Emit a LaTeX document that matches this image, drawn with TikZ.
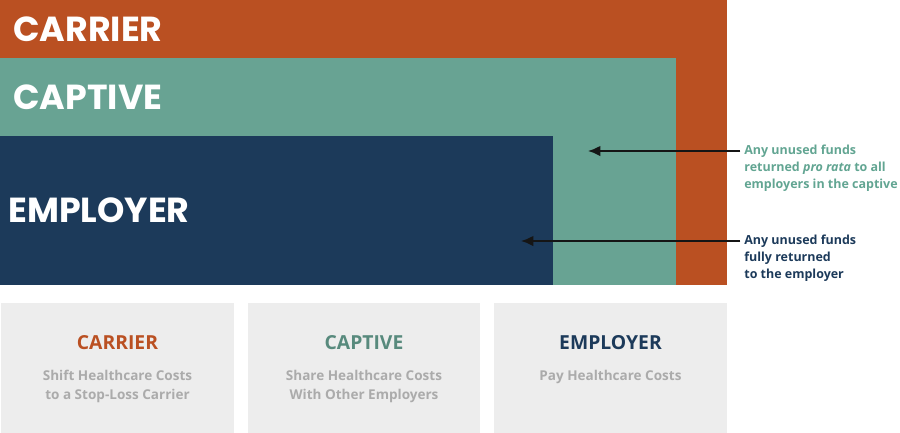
\documentclass[tikz,border=0pt]{standalone}
\usepackage{fontspec}
\setmainfont{Open Sans}
\newfontfamily\headfont{Poppins}
\usetikzlibrary{arrows.meta}

\definecolor{carrierred}{HTML}{BA5022}
\definecolor{captiveteal}{HTML}{68A393}
\definecolor{employerblue}{HTML}{1C3A5A}
\definecolor{panelgray}{HTML}{EDEDED}
\definecolor{subgray}{HTML}{ABABAB}
\definecolor{notegreen}{HTML}{62A592}
\definecolor{arrowblack}{HTML}{151515}

\begin{document}
\begin{tikzpicture}[x=0.02cm, y=-0.02cm,
  bigtitle/.style={anchor=west, text=white, inner sep=0pt,
    font=\headfont\bfseries\fontsize{19.8}{22}\selectfont},
  panel/.style={fill=panelgray, minimum width=4.66cm, minimum height=2.6cm, inner sep=0pt},
  paneltitle/.style={inner sep=0pt, font=\bfseries\fontsize{11}{13}\selectfont},
  paneltext/.style={text=subgray, align=center, inner sep=0pt,
    font=\bfseries\fontsize{7.7}{10.8}\selectfont},
  note/.style={anchor=north west, align=left, inner sep=0pt,
    font=\bfseries\fontsize{7.1}{9.6}\selectfont},
  back/.style={-{Latex[length=7pt,width=6pt]}, line width=1.1pt, draw=arrowblack, shorten <=2pt}]
\useasboundingbox (0,0) rectangle (900,433);

% nested layers
\fill[carrierred] (0,0) rectangle (727,285);
\fill[captiveteal] (0,58) rectangle (676,285);
\fill[employerblue] (0,136) rectangle (553,285);

\node[bigtitle] (carrier) at (13,29) {CARRIER};
\node[bigtitle] (captive) at (13,97) {CAPTIVE};
\node[bigtitle] (employer) at (8,210) {EMPLOYER};

% notes on the right
\node[note, text=notegreen] (note1) at (744,145)
  {Any unused funds\\returned \textit{pro rata} to all\\employers in the captive};
\node[note, text=employerblue] (note2) at (744,235)
  {Any unused funds\\fully returned\\to the employer};
\coordinate (tip1) at (588,151);
\coordinate (tip2) at (521,241);
\draw[back] (note1.west |- tip1) -- (tip1);
\draw[back] (note2.west |- tip2) -- (tip2);

% panels below
\node[panel] (panel1) at (117.5,368) {};
\node[panel] (panel2) at (364,368) {};
\node[panel] (panel3) at (610.5,368) {};

\node[paneltitle, text=carrierred] (title1) at (117.5,343) {CARRIER};
\node[paneltitle, text=captiveteal!85!black] (title2) at (364,343) {CAPTIVE};
\node[paneltitle, text=employerblue] (title3) at (610.5,343) {EMPLOYER};

\node[paneltext] (text1) at (117.5,386) {Shift Healthcare Costs\\to a Stop-Loss Carrier};
\node[paneltext] (text2) at (364,386) {Share Healthcare Costs\\With Other Employers};
\node[paneltext] (text3) at (610.5,377) {Pay Healthcare Costs};
\end{tikzpicture}
\end{document}
